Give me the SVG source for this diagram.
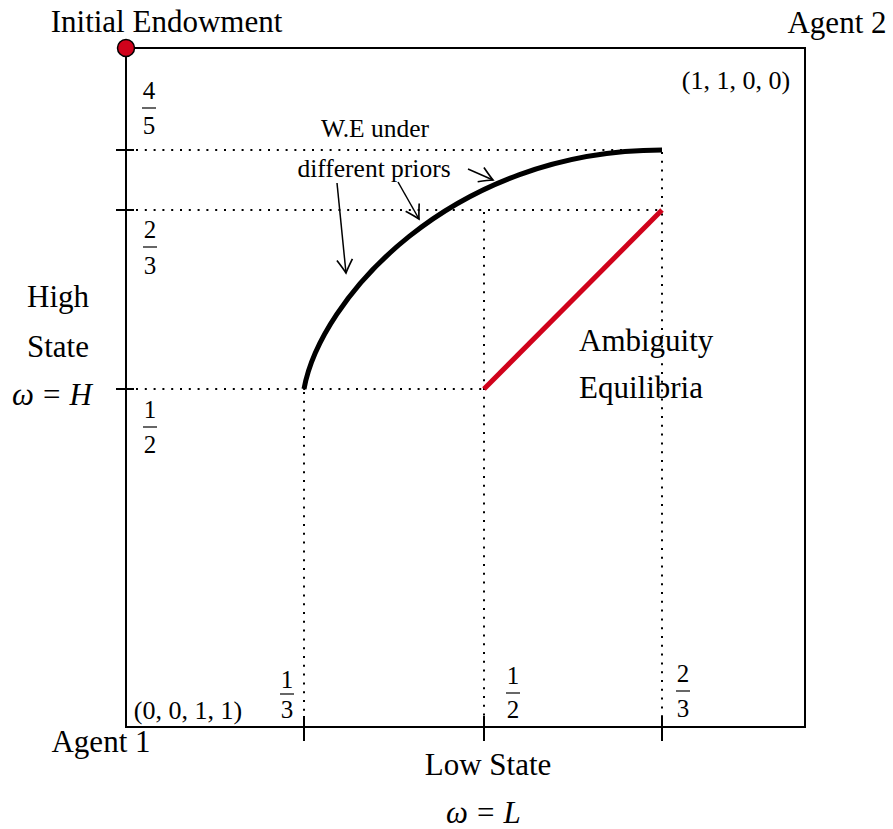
<svg xmlns="http://www.w3.org/2000/svg" width="893" height="829" viewBox="0 0 893 829">
<style>
text{font-family:"Liberation Serif","Times New Roman",serif;fill:#000}
.lab{font-size:31px}
.we{font-size:25.5px;text-anchor:middle}
.fr{font-size:25px;text-anchor:middle}
.co{font-size:26px;text-anchor:middle}
.mi{font-style:italic}
.dot{stroke:#000;stroke-width:2;stroke-dasharray:2 6.8;fill:none}
.tick{stroke:#000;stroke-width:2;fill:none}
.bar{stroke:#000;stroke-width:1.2}
.arr{stroke:#000;stroke-width:1.5;fill:none;marker-end:url(#head)}
</style>
<defs>
<marker id="head" markerUnits="userSpaceOnUse" markerWidth="20" markerHeight="20" viewBox="-14 -9 16 18" refX="0" refY="0" orient="auto">
<path d="M-12,-7 Q-4,-2 0,0 Q-4,2 -12,7" fill="none" stroke="#000" stroke-width="1.5"/>
</marker>
</defs>
<rect width="893" height="829" fill="#fff"/>

<g id="box">
<rect x="126" y="48" width="679" height="679" fill="none" stroke="#000" stroke-width="2"/>
</g>

<g id="guides">
<line class="dot" x1="136" y1="150" x2="662" y2="150"/>
<line class="dot" x1="136" y1="210" x2="662" y2="210"/>
<line class="dot" x1="136" y1="389" x2="484" y2="389"/>
<line class="dot" x1="304" y1="392" x2="304" y2="717"/>
<line class="dot" x1="484" y1="212" x2="484" y2="717"/>
<line class="dot" x1="662" y1="152" x2="662" y2="717"/>
</g>

<g id="ticks">
<line class="tick" x1="116" y1="150" x2="134" y2="150"/>
<line class="tick" x1="116" y1="210" x2="134" y2="210"/>
<line class="tick" x1="116" y1="389" x2="134" y2="389"/>
<line class="tick" x1="304" y1="716" x2="304" y2="741"/>
<line class="tick" x1="484" y1="716" x2="484" y2="741"/>
<line class="tick" x1="662" y1="716" x2="662" y2="741"/>
</g>

<g id="we-curve">
<path d="M304,389 C320,300 450,150 662,150" fill="none" stroke="#000" stroke-width="5"/>
</g>

<g id="ambiguity-line">
<line x1="484" y1="389" x2="662" y2="210" stroke="#d0021b" stroke-width="5"/>
</g>

<g id="initial-endowment">
<circle cx="126" cy="48" r="8.5" fill="#d0021b" stroke="#000" stroke-width="1.5"/>
<text class="lab" x="166.5" y="32" text-anchor="middle" font-size="31.5">Initial Endowment</text>
</g>

<g id="connectors">
<line class="arr" x1="337" y1="183" x2="346" y2="273"/>
<line class="arr" x1="398" y1="182" x2="419" y2="219"/>
<line class="arr" x1="468" y1="169" x2="493" y2="180"/>
</g>

<g id="we-label">
<text class="we" x="375" y="137">W.E under</text>
<text class="we" x="374" y="177">different priors</text>
</g>

<g id="amb-label">
<text class="lab" x="579" y="351">Ambiguity</text>
<text class="lab" x="579" y="398">Equilibria</text>
</g>

<g id="agents">
<text class="lab" x="837" y="33" text-anchor="middle">Agent 2</text>
<text class="lab" x="101" y="752" text-anchor="middle">Agent 1</text>
<text class="co" x="736" y="89">(1, 1, 0, 0)</text>
<text class="co" x="188" y="719">(0, 0, 1, 1)</text>
</g>

<g id="high-label">
<text class="lab" x="58" y="307" text-anchor="middle">High</text>
<text class="lab" x="58" y="357" text-anchor="middle">State</text>
<text class="lab" x="12" y="405"><tspan class="mi">ω</tspan><tspan dx="9">=</tspan><tspan class="mi" dx="9">H</tspan></text>
</g>

<g id="low-label">
<text class="lab" x="488" y="775" text-anchor="middle">Low State</text>
<text class="lab" x="446" y="823"><tspan class="mi">ω</tspan><tspan dx="9">=</tspan><tspan class="mi" dx="9">L</tspan></text>
</g>

<g id="frac-y">
<text class="fr" x="149" y="99">4</text><line class="bar" x1="142" y1="108" x2="156" y2="108"/><text class="fr" x="149" y="134">5</text>
<text class="fr" x="150" y="238">2</text><line class="bar" x1="143" y1="247" x2="157" y2="247"/><text class="fr" x="150" y="274">3</text>
<text class="fr" x="150" y="418">1</text><line class="bar" x1="143" y1="427" x2="157" y2="427"/><text class="fr" x="150" y="453">2</text>
</g>

<g id="frac-x">
<text class="fr" x="287" y="688">1</text><line class="bar" x1="280" y1="694" x2="294" y2="694"/><text class="fr" x="287" y="718">3</text>
<text class="fr" x="513" y="684">1</text><line class="bar" x1="506" y1="693" x2="520" y2="693"/><text class="fr" x="513" y="718">2</text>
<text class="fr" x="683" y="682">2</text><line class="bar" x1="676" y1="691" x2="690" y2="691"/><text class="fr" x="683" y="717">3</text>
</g>
</svg>
